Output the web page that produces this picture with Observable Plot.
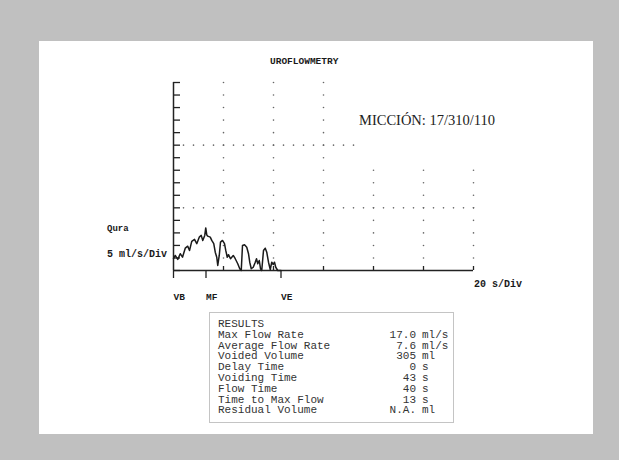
<!DOCTYPE html>
<html>
<head>
<meta charset="utf-8">
<script src="https://cdn.jsdelivr.net/npm/d3@7"></script>
<script src="https://cdn.jsdelivr.net/npm/@observablehq/plot@0.6"></script>
<style>
  body { margin: 0; background: #c0c0c0; }
  #page { position: relative; width: 619px; height: 460px; overflow: hidden; }
  #panel { position: absolute; left: 39px; top: 41px; width: 554px; height: 393px; background: #fff; }
  #chart { position: absolute; left: 0; top: 0; }
  .lbl { position: absolute; white-space: pre; color: #1a1a1a; }
  .dot { font-family: "Liberation Mono", "DejaVu Sans Mono", monospace; font-weight: bold; font-size: 10px; color: #1a1a1a; }
  #miccion { font-family: "Liberation Serif", "DejaVu Serif", serif; font-size: 14.5px; color: #222; }
  #results { position: absolute; left: 209px; top: 312px; width: 243px; height: 109px; border: 1px solid #c4c4c4; }
  .row { position: absolute; left: 0; height: 11px; line-height: 11px; width: 100%;
         font-family: "Liberation Mono", "DejaVu Sans Mono", monospace; font-size: 11px; color: #333; }
  .row span { position: absolute; white-space: pre; }
</style>
</head>
<body>
<div id="page">
  <div id="panel"></div>
  <div id="chart"></div>
  <div class="lbl dot" style="left:270px;top:56px;font-size:9.5px">UROFLOWMETRY</div>
  <div class="lbl" id="miccion" style="left:359px;top:112px">MICCIÓN: 17/310/110</div>
  <div class="lbl dot" style="left:107px;top:224px;font-size:9px">Qura</div>
  <div class="lbl dot" style="left:107px;top:249px"><span>5 ml/s/Div</span></div>
  <div class="lbl dot" style="left:474px;top:279px">20 s/Div</div>
  <div id="results"></div>
</div>
<script>
// Flow curve: time (s) and flow rate (ml/s)
const flowTime = [0, 0.7, 1.7, 2.7, 3.6, 4.7, 5.7, 6.4, 7.3, 8.4, 9.3, 10.3, 11.1, 11.7, 12.5, 12.9, 13.3, 13.7, 14.7, 15.3,
  16.1, 16.7, 17.3, 17.7, 18.3, 18.8, 19.6, 20.4, 20.9, 21.5, 22.0, 22.8, 23.9, 24.7, 25.7, 26.5, 27.1,
  27.6, 28.4, 29.3, 30.0, 30.5, 31.1, 31.9, 32.7, 33.2, 33.7, 34.3, 34.8, 35.3, 36.0, 36.7, 37.3, 38.0,
  38.7, 39.3, 39.9, 40.4, 40.9, 41.7, 43.0];
const flowRate = [4.7, 6.0, 4.4, 6.7, 5.3, 8.9, 9.7, 8.0, 11.6, 12.4, 10.7, 13.3, 14.0, 12.0, 14.0, 17.0, 14.2, 13.7, 13.3, 12.0,
  10.7, 7.3, 5.3, 2.0, 6.0, 11.3, 12.0, 10.7, 8.0, 5.3, 6.3, 4.7, 6.0, 4.7, 2.7, 0.7, 0.0,
  10.0, 10.3, 9.3, 6.7, 3.3, 0.7, 1.3, 3.3, 4.7, 2.7, 4.0, 0.7, 0.0, 8.0, 8.9, 7.3, 3.3,
  0.4, 3.3, 2.4, 3.3, 1.3, 0.0, 0.0];

// Event markers on the time axis
const eventTimes = [0, 13, 43];
const eventNames = ["VB", "MF", "VE"];

// Results table
const resultLabels = ["Max Flow Rate", "Average Flow Rate", "Voided Volume", "Delay Time",
  "Voiding Time", "Flow Time", "Time to Max Flow", "Residual Volume"];
const resultValues = ["17.0", "7.6", "305", "0", "43", "40", "13", "N.A."];
const resultUnits = ["ml/s", "ml/s", "ml", "s", "s", "s", "s", "ml"];

const flow = flowTime.map((t, i) => ({t, q: flowRate[i]}));
const events = eventTimes.map((t, i) => ({t, name: eventNames[i]}));

// Dotted grid: columns every 20 s at each 5 ml/s step, rows at 25 and 50 ml/s
const gridDots = [];
for (const t of [20, 40, 60, 80, 100, 120]) {
  const top = t <= 60 ? 75 : 40;
  for (let q = 5; q <= top; q += 5) gridDots.push({t, q});
}
for (let t = 4; t <= 120; t += 4) gridDots.push({t, q: 25});
for (let t = 4; t <= 72; t += 4) gridDots.push({t, q: 50});

const chart = Plot.plot({
  width: 619,
  height: 460,
  marginLeft: 173,
  marginRight: 146,
  marginTop: 82,
  marginBottom: 190,
  style: {background: "transparent", overflow: "visible"},
  x: {domain: [0, 120], label: null},
  y: {domain: [0, 75], label: null},
  marks: [
    Plot.dot(gridDots, {x: "t", y: "q", r: 0.8, fill: "#666", stroke: null}),
    Plot.axisY({ticks: d3.range(0, 80, 5), tickSize: -7, tickFormat: () => "", label: null, stroke: "#222", strokeWidth: 1.3}),
    Plot.axisX({ticks: d3.range(20, 140, 20), tickSize: -4, tickFormat: () => "", label: null, stroke: "#222", strokeWidth: 1.3}),
    Plot.axisX({ticks: eventTimes, tickSize: 8, tickFormat: () => "", label: null, stroke: "#222", strokeWidth: 1.3}),
    Plot.ruleX([0], {y1: 0, y2: 75, stroke: "#222", strokeWidth: 1.5}),
    Plot.ruleY([0], {x1: 0, x2: 120, stroke: "#222", strokeWidth: 1.5}),
    Plot.line(flow, {x: "t", y: "q", stroke: "#1a1a1a", strokeWidth: 1.5}),
    Plot.text(events, {x: "t", y: 0, text: "name", dy: 26, textAnchor: "start",
      fontFamily: "Liberation Mono, monospace", fontWeight: "bold", fontSize: 9.5, fill: "#1a1a1a"})
  ]
});
document.getElementById("chart").append(chart);

// Results box
const box = document.getElementById("results");
const addRow = (i, label, value, unit) => {
  const row = document.createElement("div");
  row.className = "row";
  row.style.top = (6 + i * 10.8) + "px";
  const a = document.createElement("span");
  a.style.left = "8px";
  a.textContent = label;
  row.append(a);
  if (value != null) {
    const v = document.createElement("span");
    v.style.right = (243 - 206) + "px";
    v.textContent = value;
    const u = document.createElement("span");
    u.style.left = "212px";
    u.textContent = unit;
    row.append(v, u);
  }
  box.append(row);
};
addRow(0, "RESULTS");
resultLabels.forEach((l, i) => addRow(i + 1, l, resultValues[i], resultUnits[i]));
</script>
</body>
</html>
